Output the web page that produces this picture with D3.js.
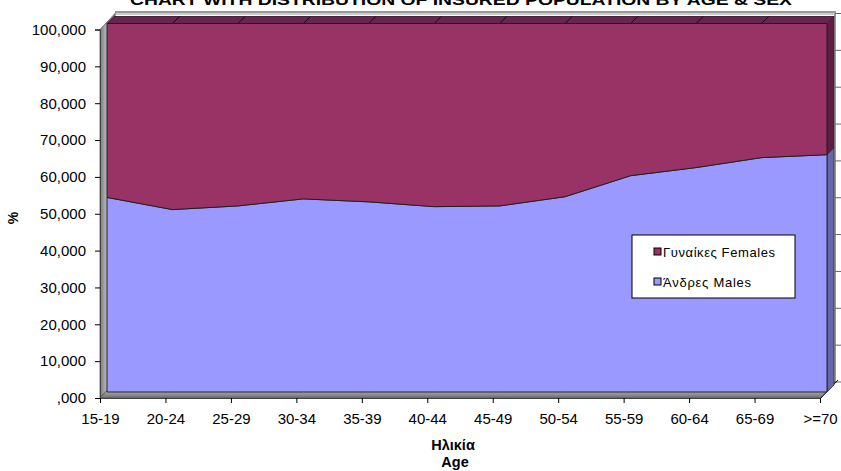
<!DOCTYPE html>
<html>
<head>
<meta charset="utf-8">
<script src="https://cdn.jsdelivr.net/npm/d3@7"></script>
<style>
  html, body { margin: 0; padding: 0; background: #fff; }
  svg { display: block; font-family: Arial, "Liberation Sans", sans-serif; }
</style>
</head>
<body>
<svg id="chart" width="841" height="471"></svg>
<script>
const categories = ["15-19","20-24","25-29","30-34","35-39","40-44","45-49","50-54","55-59","60-64","65-69",">=70"];
const males   = [52.8, 49.5, 50.5, 52.4, 51.6, 50.3, 50.5, 53.0, 58.7, 60.9, 63.6, 64.4];
const females = [47.2, 50.5, 49.5, 47.6, 48.4, 49.7, 49.5, 47.0, 41.3, 39.1, 36.4, 35.6];
const yTicks = [0,10,20,30,40,50,60,70,80,90,100];
const yTickLabels = [",000","10,000","20,000","30,000","40,000","50,000","60,000","70,000","80,000","90,000","100,000"];
const seriesNames = ["Άνδρες Males","Γυναίκες Females"];
const title = "CHART WITH DISTRIBUTION OF INSURED POPULATION BY AGE & SEX";

const svg = d3.select("#chart");
const x = d3.scalePoint().domain(categories).range([100, 820]);
const y = d3.scaleLinear().domain([0, 100]).range([398, 29.5]);

// 3D offsets
const wall = {dx: 15, dy: -16};
const f = {dx: 7, dy: -6};      // slab front face
const b = {dx: 14, dy: -13};    // slab back face

const x0 = x(categories[0]), xl = x(categories[categories.length-1]);
const yb = y(0), yt = y(100);

const pts = a => a.map(p => p.join(",")).join(" ");

// back wall
svg.append("polygon")
  .attr("points", pts([[x0+wall.dx, yt+wall.dy],[xl+wall.dx, yt+wall.dy],[xl+wall.dx, yb+wall.dy],[x0+wall.dx, yb+wall.dy]]))
  .attr("fill", "#fff").attr("stroke", "#999").attr("stroke-width", 1);
svg.append("line")
  .attr("x1", x0+wall.dx).attr("x2", xl+wall.dx+1)
  .attr("y1", yt+wall.dy-1.5).attr("y2", yt+wall.dy-1.5)
  .attr("stroke", "#777").attr("stroke-width", 1.5);
svg.append("line")
  .attr("x1", x0+wall.dx).attr("x2", xl+wall.dx+1)
  .attr("y1", yt+wall.dy+0.5).attr("y2", yt+wall.dy+0.5)
  .attr("stroke", "#ccc").attr("stroke-width", 2);
svg.append("line")
  .attr("x1", xl+wall.dx).attr("x2", xl+wall.dx)
  .attr("y1", yt+wall.dy).attr("y2", yb+wall.dy)
  .attr("stroke", "#888").attr("stroke-width", 1.5);
// gridlines on back wall (visible right edge)
svg.append("g").selectAll("line").data(yTicks).join("line")
  .attr("x1", xl+wall.dx).attr("x2", 841)
  .attr("y1", d => y(d)+wall.dy).attr("y2", d => y(d)+wall.dy)
  .attr("stroke", "#666").attr("stroke-width", 1);

// left wall
const lg = svg.append("defs").append("linearGradient").attr("id", "lw").attr("x1", 0).attr("x2", 1).attr("y1", 0).attr("y2", 0);
lg.append("stop").attr("offset", "0%").attr("stop-color", "#7a7a7a");
lg.append("stop").attr("offset", "40%").attr("stop-color", "#b4b4b4");
lg.append("stop").attr("offset", "100%").attr("stop-color", "#8a8a8a");
const fg = svg.select("defs").append("linearGradient").attr("id", "fw").attr("x1", 0).attr("x2", 0).attr("y1", 1).attr("y2", 0);
fg.append("stop").attr("offset", "0%").attr("stop-color", "#6e6e6e");
fg.append("stop").attr("offset", "45%").attr("stop-color", "#b0b0b0");
fg.append("stop").attr("offset", "100%").attr("stop-color", "#8a8a8a");

svg.append("polygon")
  .attr("points", pts([[x0, yb],[x0, yt],[x0+wall.dx, yt+wall.dy],[x0+wall.dx, yb+wall.dy]]))
  .attr("fill", "url(#lw)").attr("stroke", "#555").attr("stroke-width", 0.8);
// floor
svg.append("polygon")
  .attr("points", pts([[x0, yb],[xl, yb],[xl+wall.dx, yb+wall.dy],[x0+wall.dx, yb+wall.dy]]))
  .attr("fill", "url(#fw)").attr("stroke", "#555").attr("stroke-width", 0.8);
svg.append("line")
  .attr("x1", xl).attr("y1", yb+1).attr("x2", xl+wall.dx+3).attr("y2", yb+wall.dy-2)
  .attr("stroke", "#000").attr("stroke-width", 1);

// stacked data
const rows = categories.map((c, i) => ({cat: c, m: males[i], fem: females[i]}));
const stack = d3.stack().keys(["m", "fem"])(rows);
const colors = {m: "#9999FF", fem: "#993366"};
const sideColors = {m: "#6666A8", fem: "#5E1E44"};

// top face of slab
const topV = stack[1][stack[1].length-1][1];
svg.append("polygon")
  .attr("points", pts([[x0+f.dx, y(stack[1][0][1])+f.dy],[x0+b.dx, y(stack[1][0][1])+b.dy],
                       [xl+b.dx, y(topV)+b.dy],[xl+f.dx, y(topV)+f.dy]]))
  .attr("fill", "#6A2450").attr("stroke", "#2a0a1c").attr("stroke-width", 0.8);
svg.append("g").selectAll("line").data(categories.slice(1, -1)).join("line")
  .attr("x1", d => x(d)+f.dx).attr("y1", y(100)+f.dy)
  .attr("x2", d => x(d)+b.dx).attr("y2", y(100)+b.dy)
  .attr("stroke", "#1a0510").attr("stroke-width", 1);

// right side faces
stack.forEach(s => {
  const last = s[s.length-1];
  svg.append("polygon")
    .attr("points", pts([[xl+f.dx, y(last[0])+f.dy],[xl+f.dx, y(last[1])+f.dy],
                         [xl+b.dx, y(last[1])+b.dy],[xl+b.dx, y(last[0])+b.dy]]))
    .attr("fill", sideColors[s.key]).attr("stroke", "#222").attr("stroke-width", 0.6);
});

// front faces
const area = d3.area()
  .x(d => x(d.data.cat)+f.dx)
  .y0(d => y(d[0])+f.dy)
  .y1(d => y(d[1])+f.dy);
svg.append("g").selectAll("path").data(stack).join("path")
  .attr("d", area)
  .attr("fill", d => colors[d.key])
  .attr("stroke", "#1a1a1a").attr("stroke-width", 0.9);

// axes
const yAxis = svg.append("g").attr("transform", `translate(${x0},0)`)
  .call(d3.axisLeft(y).tickValues(yTicks).tickFormat((d, i) => yTickLabels[i]).tickSize(5).tickPadding(9));
yAxis.select(".domain").attr("stroke", "#444");
yAxis.selectAll("text").attr("font-size", 15).attr("fill", "#000").attr("font-family", "Arial, 'Liberation Sans', sans-serif");

const xAxis = svg.append("g").attr("transform", `translate(0,${yb})`)
  .call(d3.axisBottom(x).tickSize(5).tickPadding(10).tickSizeOuter(0));
xAxis.select(".domain").attr("stroke", "#444");
xAxis.selectAll("text").attr("font-size", 15).attr("fill", "#000").attr("font-family", "Arial, 'Liberation Sans', sans-serif");

// titles
svg.append("text").attr("x", 130).attr("y", 5)
  .attr("font-size", 14).attr("font-weight", "bold")
  .attr("textLength", 662).attr("lengthAdjust", "spacingAndGlyphs")
  .text(title);
svg.append("text").attr("transform", "translate(18,218) rotate(-90)")
  .attr("text-anchor", "middle").attr("font-size", 14).attr("font-weight", "bold").text("%");
svg.append("text").attr("x", 453).attr("y", 450)
  .attr("text-anchor", "middle").attr("font-size", 14.5).attr("font-weight", "bold").text("Ηλικία");
svg.append("text").attr("x", 455).attr("y", 467)
  .attr("text-anchor", "middle").attr("font-size", 14.5).attr("font-weight", "bold").text("Age");

// legend
const lgd = svg.append("g").attr("transform", "translate(632,235)");
lgd.append("rect").attr("width", 163).attr("height", 63).attr("fill", "#fff").attr("stroke", "#000").attr("stroke-width", 1);
const legendItems = [{name: seriesNames[1], key: "fem", len: 112}, {name: seriesNames[0], key: "m", len: 88}];
legendItems.forEach((it, i) => {
  const gy = 17 + i * 30;
  lgd.append("rect").attr("x", 22).attr("y", gy - 4).attr("width", 7).attr("height", 7)
    .attr("fill", colors[it.key]).attr("stroke", "#000").attr("stroke-width", 1);
  lgd.append("text").attr("x", 31).attr("y", gy + 4.5).attr("font-size", 13)
    .attr("textLength", it.len).attr("lengthAdjust", "spacing").text(it.name);
});
</script>
</body>
</html>
